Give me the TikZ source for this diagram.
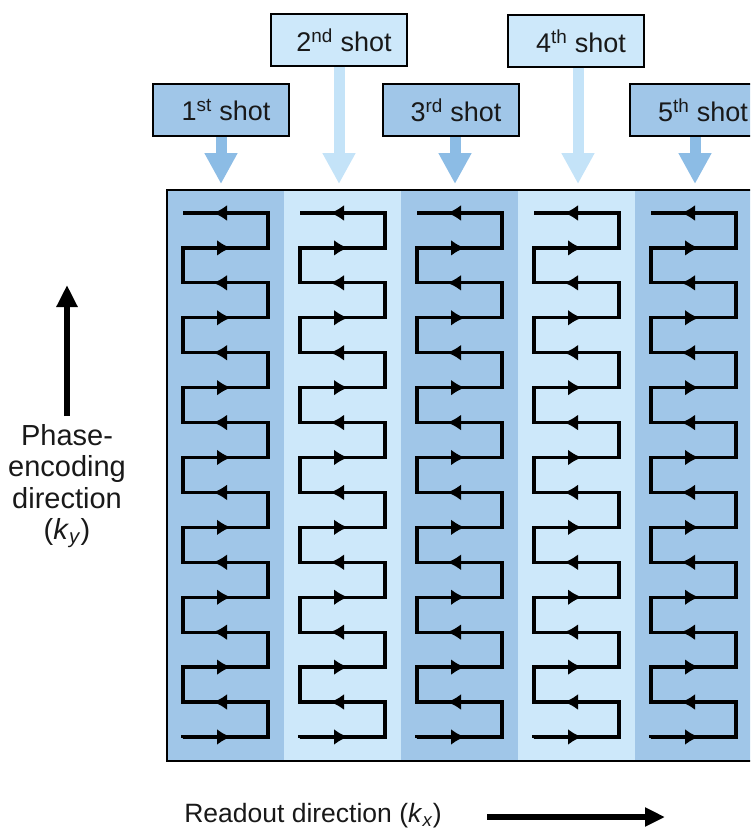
\documentclass[tikz,border=0pt]{standalone}
\usepackage{fontspec}
\setmainfont{Liberation Sans}
\usetikzlibrary{arrows.meta}

\definecolor{stripdark}{RGB}{160,198,232}
\definecolor{striplight}{RGB}{205,232,250}
\definecolor{arrowdark}{RGB}{140,188,229}
\definecolor{arrowlight}{RGB}{196,227,248}

\tikzset{
  shotbox/.style={draw=black, line width=1.8pt, minimum width=136pt, minimum height=52pt,
    inner sep=0pt, text=black!90, font=\fontsize{27}{30}\selectfont},
  trace/.style={line width=3.2pt, line join=miter},
  midtip/.style={line width=3.2pt, -{Latex[length=14pt,width=16pt]}},
  fatarrow/.style={line width=11pt, -{Triangle[width=31pt,length=31pt]}}
}

\begin{document}
\begin{tikzpicture}[x=1pt,y=-1pt]
\useasboundingbox (0,0) rectangle (750,830);
\clip (0,0) rectangle (750,830);

% Strips of k-space
\fill[stripdark]  (167,190) rectangle (284,761);
\fill[striplight] (284,190) rectangle (401,761);
\fill[stripdark]  (401,190) rectangle (518,761);
\fill[striplight] (518,190) rectangle (635,761);
\fill[stripdark]  (635,190) rectangle (780,761);
\draw[line width=2pt] (167,190) rectangle (780,761);

% Zigzag trajectories, bottom to top
\foreach \k in {0,...,4}{
  \pgfmathsetmacro\xa{183+117*\k}
  \pgfmathsetmacro\xb{268+117*\k}
  \pgfmathsetmacro\xm{222+117*\k}
  \draw[trace] (\xa,737) \foreach \j in {7,6,...,0}{
    -- (\xa,{213+34.93*(2*\j+1)}) -- (\xb,{213+34.93*(2*\j+1)})
    -- (\xb,{213+34.93*2*\j}) -- (\xa,{213+34.93*2*\j}) };
  \foreach \j in {0,...,7}{
    \draw[midtip] (\xm-8,{213+34.93*(2*\j+1)}) -- (\xm+9,{213+34.93*(2*\j+1)});
    \draw[midtip] (\xm+8,{213+34.93*2*\j}) -- (\xm-9,{213+34.93*2*\j});
  }
}

% Shots
\node[shotbox, fill=stripdark]  (s1) at (221,110) {\hspace{10pt}1\textsuperscript{st} shot};
\node[shotbox, fill=striplight] (s2) at (339,40)  {\hspace{10pt}2\textsuperscript{nd} shot};
\node[shotbox, fill=stripdark]  (s3) at (451,110) {\hspace{10pt}3\textsuperscript{rd} shot};
\node[shotbox, fill=striplight] (s4) at (576,41)  {\hspace{10pt}4\textsuperscript{th} shot};
\node[shotbox, fill=stripdark]  (s5) at (698,110) {\hspace{10pt}5\textsuperscript{th} shot};

\coordinate (t1) at (221,184);
\coordinate (t2) at (339,184);
\coordinate (t3) at (455,184);
\coordinate (t4) at (578,184);
\coordinate (t5) at (695,184);
\draw[fatarrow, arrowdark]  (s1.south) -- (t1);
\draw[fatarrow, arrowlight] (s2.south) -- (t2);
\draw[fatarrow, arrowdark]  (s3.south -| t3) -- (t3);
\draw[fatarrow, arrowlight] (s4.south -| t4) -- (t4);
\draw[fatarrow, arrowdark]  (s5.south -| t5) -- (t5);

% Axes
\node[align=center, text=black!90, font=\fontsize{29}{31.5}\selectfont] (ky) at (67,486)
  {Phase-\\encoding\\direction\\(\textit{k}\textsubscript{\textit{y}})};
\coordinate (kytop) at (67,285);
\draw[line width=6pt, -{Triangle[width=20pt,length=22pt]}] (67,416) -- (kytop);

\node[text=black!90, font=\fontsize{26.5}{30}\selectfont] (kx) at (313,816)
  {Readout direction (\textit{k}\textsubscript{\textit{x}})};
\coordinate (kxend) at (665,817);
\draw[line width=6pt, -{Triangle[width=18pt,length=20pt]}] (487,817) -- (kxend);
\end{tikzpicture}
\end{document}
